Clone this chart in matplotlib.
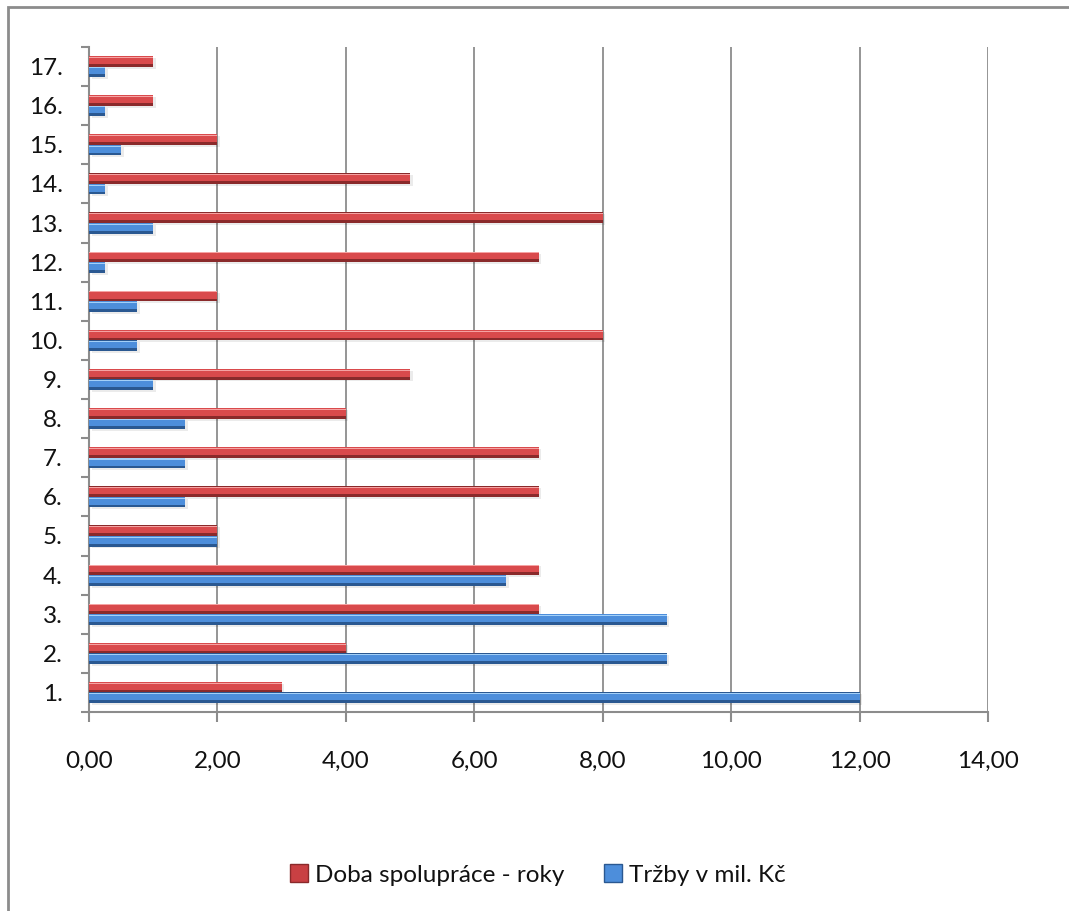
import numpy as np
import matplotlib
matplotlib.use('Agg')
import matplotlib.pyplot as plt
from matplotlib.patches import Rectangle, Patch
from matplotlib.ticker import MultipleLocator, FuncFormatter

plt.rcParams['font.family'] = ['Lato', 'DejaVu Sans']

# data
poradi = ['1.', '2.', '3.', '4.', '5.', '6.', '7.', '8.', '9.', '10.',
          '11.', '12.', '13.', '14.', '15.', '16.', '17.']
trzby = [12, 9, 9, 6.5, 2, 1.5, 1.5, 1.5, 1, 0.75, 0.75, 0.25, 1, 0.25, 0.5, 0.25, 0.25]
doba = [3, 4, 7, 7, 2, 7, 7, 4, 5, 8, 2, 7, 8, 5, 2, 1, 1]

fig = plt.figure(figsize=(10.69, 9.11), dpi=100)
ax = fig.add_axes([89/1069, 1-712/911, (988-89)/1069, (712-47)/911])

y = np.arange(len(poradi))
h = 0.27

def bevel_bars(ypos, vals, dark, mid, light):
    # stin pod sloupcem
    ax.barh(ypos - 0.05, vals, height=h, left=0.04, color='#000000', alpha=0.08, zorder=2)
    ax.barh(ypos, vals, height=h, color=dark, zorder=3)
    # hlavni plocha od spodni tretiny az po horni hranu
    ax.barh(ypos + h*0.12, vals, height=h*0.72, color=mid, zorder=4)
    ax.barh(ypos + h*0.38, vals, height=h*0.1, color=light, zorder=5)

bevel_bars(y + h/2, doba, '#8a2a2b', '#d94a4c', '#f5a3a3')
bevel_bars(y - h/2, trzby, '#2a5891', '#4d8edb', '#a3d0f8')

ax.set_xlim(0, 14)
ax.set_ylim(-0.5, len(poradi) - 0.5)
ax.xaxis.set_major_locator(MultipleLocator(2))
ax.xaxis.set_major_formatter(FuncFormatter(lambda v, p: f'{v:.2f}'.replace('.', ',')))
ax.set_yticks(y)
ax.set_yticklabels(poradi)
ax.set_yticks(np.arange(-0.5, len(poradi), 1), minor=True)

ax.grid(axis='x', color='#8c8c8c', linewidth=1.3, zorder=0)
ax.set_axisbelow(True)
for s in ['top', 'right']:
    ax.spines[s].set_visible(False)
for s in ['left', 'bottom']:
    ax.spines[s].set_color('#8c8c8c')
    ax.spines[s].set_linewidth(1.5)

ax.tick_params(axis='y', which='major', length=0, pad=19, labelsize=17.5, labelcolor='#111111')
ax.tick_params(axis='y', which='minor', length=6, width=1.5, color='#8c8c8c')
ax.tick_params(axis='x', which='major', length=7, width=1.5, color='#8c8c8c', pad=21,
               labelsize=17.5, labelcolor='#111111')

# ramecek grafu
fig.patches.append(Rectangle((8/1069, -0.1), 1.2, 1 - 7/911 + 0.1, transform=fig.transFigure,
                             fill=False, edgecolor='#8c8c8c', linewidth=2))

handles = [Patch(facecolor='#c94043', edgecolor='#8a2a2b', label='Doba spolupráce - roky'),
           Patch(facecolor='#4d8edb', edgecolor='#2a5891', label='Tržby v mil. Kč')]
fig.legend(handles=handles, loc='center', bbox_to_anchor=(538/1069, 1 - 875/911), ncol=2,
           frameon=False, fontsize=17.5, handlelength=0.75, handleheight=0.75,
           handletextpad=0.3, columnspacing=1.6, labelcolor='#111111')

fig.savefig('out.png', dpi=100)
